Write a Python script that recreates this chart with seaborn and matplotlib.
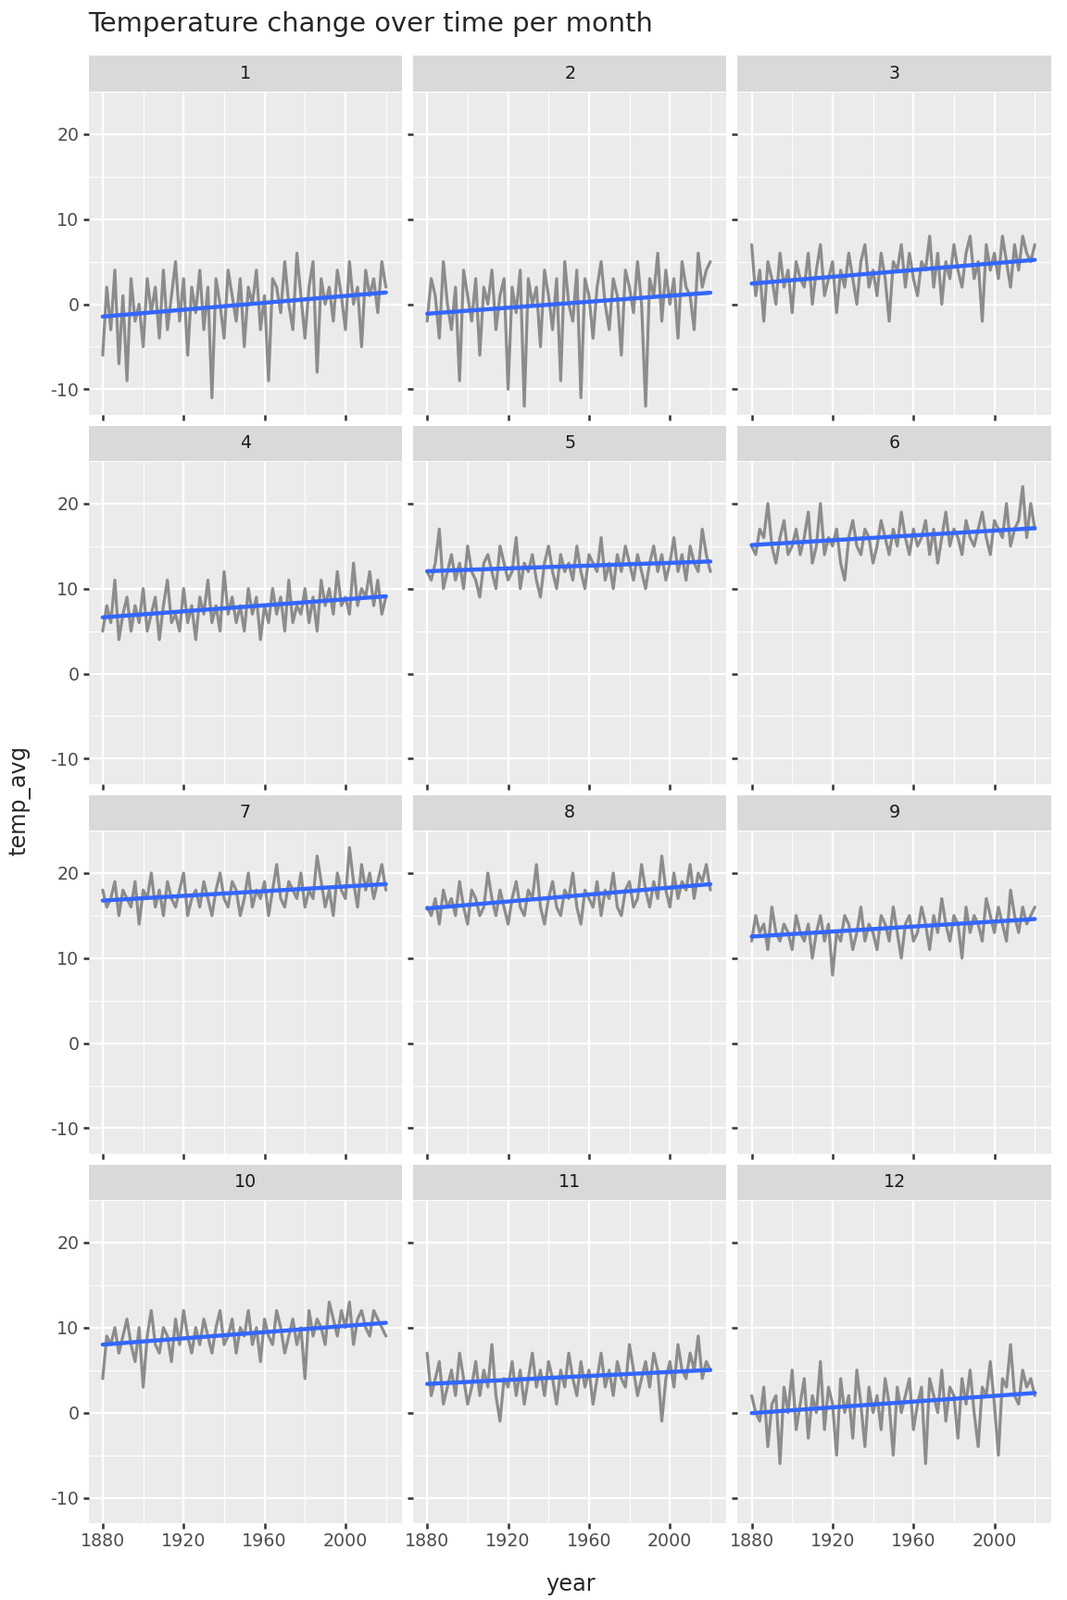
import numpy as np
import pandas as pd
import seaborn as sns
import matplotlib.pyplot as plt
from mpl_toolkits.axes_grid1 import make_axes_locatable

# --- data: estimated monthly average temperature, every 2 years from 1880 ---
M1 = [-6,2,-3,4,-7,1,-9,3,-2,0,-5,3,-1,2,-4,4,-3,1,5,-2,3,-6,2,-1,4,-3,2,-11,3,0,-4,4,1,-2,3,-5,2,0,4,-3,1,-9,3,2,-1,5,0,-3,6,1,-4,2,5,-8,3,0,2,-2,4,1,-3,5,0,2,-5,4,1,3,-1,5,2]
M2 = [-2,3,1,-4,5,0,-3,2,-9,4,1,-2,3,-6,2,0,4,-3,1,3,-10,2,-1,4,-12,3,0,2,-5,4,1,-3,3,-9,5,0,-2,4,-11,3,1,-4,2,5,0,-3,3,1,-6,4,2,-1,5,0,-12,3,1,6,-2,4,0,3,-4,5,2,1,-3,6,2,4,5]
M3 = [7,1,4,-2,5,3,0,6,2,4,-1,5,3,2,6,0,4,7,1,3,5,-1,4,2,6,3,0,5,7,2,4,1,6,3,-2,5,4,7,2,6,3,1,5,4,8,2,6,0,5,3,7,4,2,6,8,3,5,-2,7,4,6,3,8,5,2,7,4,8,6,5,7]
M4 = [5,8,6,11,4,7,9,5,8,6,10,5,7,9,4,8,11,6,7,5,10,6,8,4,9,7,11,6,8,5,12,7,9,6,8,5,10,7,9,4,8,6,10,7,9,5,11,6,8,7,10,6,9,5,11,8,10,7,12,8,9,7,13,8,10,9,12,8,11,7,9]
M5 = [12,11,13,17,10,12,14,11,13,10,15,12,11,9,13,14,12,10,15,13,11,12,16,10,13,12,14,11,9,13,15,12,10,14,12,13,11,15,12,10,14,13,12,16,11,13,10,14,12,15,13,11,14,12,10,13,15,12,14,11,13,16,12,14,11,15,13,12,17,14,12]
M6 = [15,14,17,16,20,15,13,16,18,14,15,17,14,16,19,13,15,20,14,16,15,17,13,11,16,18,15,14,17,16,13,15,18,16,14,17,15,19,16,14,17,15,16,18,14,17,13,16,19,15,17,16,14,18,16,15,17,19,16,14,18,17,16,20,15,17,18,22,16,20,17]
M7 = [18,16,17,19,15,18,17,16,19,14,18,17,20,16,18,15,19,17,16,18,20,15,17,18,16,19,17,15,18,20,17,16,19,18,15,17,20,16,18,17,19,15,18,21,17,16,19,18,17,20,16,18,17,22,19,16,18,15,20,18,17,23,19,16,21,18,20,17,19,21,18]
M8 = [16,15,17,14,18,16,17,15,19,16,14,18,17,15,16,20,17,15,18,16,14,17,19,16,15,18,17,21,16,14,17,19,16,15,18,17,20,16,14,18,17,16,19,15,18,17,20,16,15,18,19,16,17,21,18,16,19,17,22,18,16,20,17,19,18,21,17,20,19,21,18]
M9 = [12,15,13,14,11,16,13,12,14,13,11,15,13,12,14,10,13,15,12,14,8,13,12,15,14,11,13,16,12,14,13,11,15,14,12,16,13,10,14,15,12,13,16,14,11,15,13,17,14,12,15,14,10,16,13,15,14,12,17,15,13,16,14,12,18,15,13,16,14,15,16]
M10 = [4,9,8,10,7,9,11,8,6,10,3,9,12,8,7,10,9,6,11,8,12,9,7,10,8,11,9,7,10,12,8,9,11,7,10,9,12,8,10,6,11,9,8,12,10,7,9,11,8,10,4,12,9,11,10,8,13,11,9,12,10,13,8,11,12,10,9,12,11,10,9]
M11 = [7,2,4,6,1,3,5,2,7,4,1,3,6,2,5,3,8,2,-1,4,3,6,2,5,1,4,7,3,5,2,6,4,1,5,3,7,4,2,6,3,5,1,4,7,3,5,2,6,4,3,8,5,2,4,6,3,7,5,-1,4,6,3,8,5,4,7,5,9,4,6,5]
M12 = [2,0,-1,3,-4,1,2,-6,3,0,5,-2,1,4,-3,2,0,6,-2,3,1,-5,4,0,2,-3,5,1,-4,3,0,2,-2,4,1,-5,3,0,2,4,-2,1,3,-6,4,2,0,5,-1,3,2,-3,4,1,5,0,-4,3,2,6,1,-5,4,3,8,2,1,5,3,4,2]
MONTHS = [M1, M2, M3, M4, M5, M6, M7, M8, M9, M10, M11, M12]
START_YEAR = 1880
STEP = 2
X_TICKS = [1880, 1920, 1960, 2000]
Y_TICKS = [-10, 0, 10, 20]

rows = []
for m, vals in enumerate(MONTHS, start=1):
    for i, v in enumerate(vals):
        rows.append({"month": m, "year": START_YEAR + STEP * i, "temp_avg": v})
df = pd.DataFrame(rows)

sns.set_theme(style="darkgrid")
plt.rcParams["font.family"] = ["DejaVu Sans"]
plt.rcParams["axes.unicode_minus"] = False
fig, axes = plt.subplots(4, 3, figsize=(8, 12), dpi=144, sharex=True, sharey=True)
fig.subplots_adjust(left=0.083, right=0.985, top=0.965, bottom=0.048, wspace=0.035, hspace=0.03)

for m, ax in zip(range(1, 13), axes.flat):
    sub = df[df["month"] == m]
    ax.set_facecolor("#EBEBEB")
    sns.lineplot(data=sub, x="year", y="temp_avg", color="#8C8C8C", linewidth=1.6, ax=ax)
    sns.regplot(data=sub, x="year", y="temp_avg", scatter=False, ci=None, truncate=True,
                color="#3366FF", line_kws={"linewidth": 2.2}, ax=ax)
    ax.set_xlim(1873, 2028)
    ax.set_ylim(-13, 25)
    ax.set_xticks(X_TICKS)
    ax.set_yticks(Y_TICKS)
    ax.set_xticks([1900, 1940, 1980, 2020], minor=True)
    ax.set_yticks([-5, 5, 15, 25], minor=True)
    ax.grid(True, which="major", color="white", linewidth=1.1)
    ax.grid(True, which="minor", color="white", linewidth=0.5)
    ax.set_xlabel("")
    ax.set_ylabel("")
    for s in ax.spines.values():
        s.set_visible(False)
    ax.tick_params(which="major", length=3, color="#333333", labelsize=9.5,
                   labelcolor="#4D4D4D", bottom=True, left=True, pad=2)
    ax.tick_params(which="minor", length=0)
    # facet strip
    div = make_axes_locatable(ax)
    strip = div.append_axes("top", size="11%", pad=0)
    strip.set_facecolor("#D9D9D9")
    strip.set_xticks([])
    strip.set_yticks([])
    for s in strip.spines.values():
        s.set_visible(False)
    strip.text(0.5, 0.5, str(m), ha="center", va="center", fontsize=9.5, color="#1A1A1A",
               transform=strip.transAxes)

fig.text(0.083, 0.993, "Temperature change over time per month", fontsize=14.5, va="top", ha="left")
fig.text(0.535, 0.003, "year", fontsize=12, ha="center", va="bottom")
fig.text(0.008, 0.5, "temp_avg", fontsize=12, rotation=90, ha="left", va="center")

fig.savefig("out.png", dpi=144)
plt.close(fig)
